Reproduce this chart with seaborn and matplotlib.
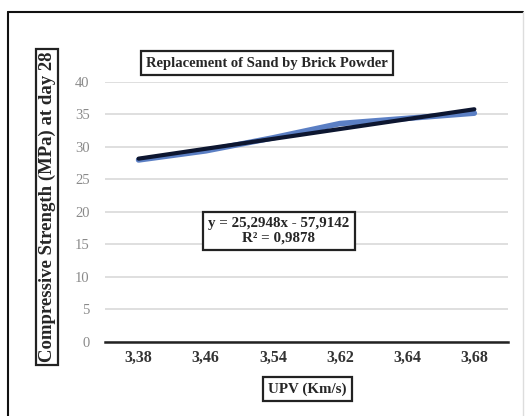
import numpy as np
import pandas as pd
import matplotlib
matplotlib.use("Agg")
import matplotlib.pyplot as plt
import seaborn as sns
from matplotlib.lines import Line2D

upv_labels = ["3,38", "3,46", "3,54", "3,62", "3,64", "3,68"]
strength = [28.0, 29.4, 31.4, 33.6, 34.4, 35.2]
y_ticks = [0, 5, 10, 15, 20, 25, 30, 35, 40]

sns.set_style("white")
plt.rcParams["font.family"] = ["Liberation Serif", "DejaVu Serif"]

df = pd.DataFrame({"pos": np.arange(len(upv_labels)), "Strength": strength})

fig = plt.figure(figsize=(5.26, 4.16), dpi=100)
ax = fig.add_axes([0.1996, 0.178, 0.766, 0.625])

ax.grid(axis="y", color="#d9d9d9", linewidth=1.2)
ax.set_axisbelow(True)

# data line (blue) and linear trend line (black)
sns.lineplot(data=df, x="pos", y="Strength", color="#5b7fc4", linewidth=4.0, ax=ax)
sns.regplot(data=df, x="pos", y="Strength", scatter=False, ci=None, truncate=True,
            line_kws={"color": "#0d1630", "linewidth": 3.0}, ax=ax)

ax.set_xlim(-0.5, len(upv_labels) - 0.5)
ax.set_ylim(0, 40)
ax.set_xticks(df["pos"])
ax.set_xticklabels(upv_labels, fontweight="bold", fontsize=11.5, color="#333333")
ax.set_yticks(y_ticks)
ax.set_yticklabels([str(v) for v in y_ticks], fontsize=10.5, color="#8a8a8a")
ax.tick_params(axis="y", length=0, pad=11)
ax.tick_params(axis="x", length=0, pad=6)
for s in ["top", "right", "left"]:
    ax.spines[s].set_visible(False)
ax.spines["bottom"].set_color("#222222")
ax.spines["bottom"].set_linewidth(1.8)
ax.set_xlabel("")
ax.set_ylabel("")

box = dict(boxstyle="square,pad=0.35", facecolor="white", edgecolor="#222222", linewidth=1.6)

fig.text(267 / 526, 1 - 63 / 416, "Replacement of Sand by Brick Powder",
         ha="center", va="center", fontsize=10.5, fontweight="bold", bbox=box)
fig.text(279 / 526, 1 - 231 / 416, "y = 25,2948x - 57,9142\nR² = 0,9878",
         ha="center", va="center", fontsize=10.8, fontweight="bold",
         linespacing=1.15, bbox=box)
fig.text(47 / 526, 1 - 207 / 416, "Compressive Strength (MPa) at day 28",
         ha="center", va="center", rotation=90, fontsize=13.5, fontweight="bold",
         bbox=dict(boxstyle="square,pad=0.15", facecolor="white", edgecolor="#222222", linewidth=1.6))
fig.text(307 / 526, 1 - 389 / 416, "UPV (Km/s)",
         ha="center", va="center", fontsize=10.8, fontweight="bold", bbox=box)

# outer frame
fig.add_artist(Line2D([8 / 526, 8 / 526], [0, 1 - 12 / 416], transform=fig.transFigure,
                      color="#111111", linewidth=1.5))
fig.add_artist(Line2D([8 / 526, 523 / 526], [1 - 12 / 416, 1 - 12 / 416],
                      transform=fig.transFigure, color="#111111", linewidth=1.5))
fig.add_artist(Line2D([523 / 526, 523 / 526], [0, 1 - 12 / 416], transform=fig.transFigure,
                      color="#dddddd", linewidth=1.0))

fig.savefig("out.png", dpi=100)
